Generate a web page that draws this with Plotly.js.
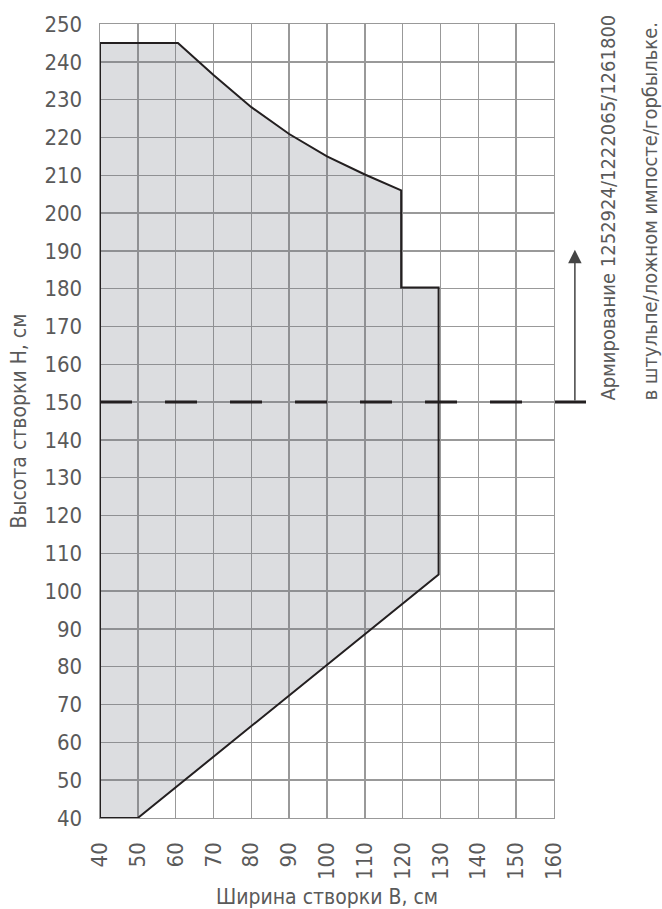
<!DOCTYPE html>
<html>
<head>
<meta charset="utf-8">
<script src="https://cdn.plot.ly/plotly-3.0.1.min.js"></script>
<style>
  html, body { margin: 0; padding: 0; background: #ffffff; }
  #chart { width: 662px; height: 909px; }
</style>
</head>
<body>
<div id="chart"></div>
<script>
// Outline of the permissible area (width B, height H)
const widthB  = [40, 40, 60.6, 70, 80, 90, 100, 110, 119.6, 119.6, 129.5, 129.5, 50, 40];
const heightH = [40, 245, 245, 236.5, 228, 220.9, 215, 210.2, 206, 180.3, 180.3, 104.4, 40, 40];

// Reinforcement threshold
const thresholdH = 150;
const arrowTopH = 190.3;

// Tick labels
const xTicks = [40, 50, 60, 70, 80, 90, 100, 110, 120, 130, 140, 150, 160];
const yTicks = [40, 50, 60, 70, 80, 90, 100, 110, 120, 130, 140, 150, 160, 170, 180, 190, 200, 210, 220, 230, 240, 250];

const xTitle = 'Ширина створки B, см';
const yTitle = 'Высота створки H, см';
const noteLine1 = 'Армирование 1252924/1222065/1261800';
const noteLine2 = 'в штульпе/ложном импосте/горбыльке.';

const FONT = '"DejaVu Sans Condensed", "DejaVu Sans", sans-serif';
const TXT = '#5a5a5a';

const traces = [{
  type: 'scatter',
  mode: 'lines',
  x: widthB,
  y: heightH,
  fill: 'toself',
  fillcolor: 'rgba(115,119,131,0.25)',
  line: { color: '#231f20', width: 2 },
  hoverinfo: 'skip',
  showlegend: false
}];

const layout = {
  width: 662,
  height: 909,
  margin: { l: 100, r: 108, t: 24, b: 91 },
  paper_bgcolor: '#ffffff',
  plot_bgcolor: '#ffffff',
  font: { family: FONT, color: TXT, size: 21 },
  showlegend: false,
  xaxis: {
    range: [40, 160],
    tickvals: xTicks,
    ticktext: xTicks.map(String),
    tickangle: -90,
    ticks: '',
    ticklabelstandoff: 14,
    tickfont: { family: FONT, size: 22, color: TXT },
    showgrid: true,
    gridcolor: '#999999',
    gridwidth: 1.4,
    zeroline: false,
    showline: true,
    linecolor: '#999999',
    linewidth: 1.4,
    mirror: true,
    fixedrange: true,
    title: { text: xTitle, font: { family: FONT, size: 21, color: TXT }, standoff: 18 }
  },
  yaxis: {
    range: [40, 250],
    tickvals: yTicks,
    ticktext: yTicks.map(String),
    ticks: '',
    ticklabelstandoff: 12,
    tickfont: { family: FONT, size: 22, color: TXT },
    showgrid: true,
    gridcolor: '#999999',
    gridwidth: 1.4,
    zeroline: false,
    showline: true,
    linecolor: '#999999',
    linewidth: 1.4,
    mirror: true,
    fixedrange: true,
    title: { text: yTitle, font: { family: FONT, size: 21, color: TXT }, standoff: 12 }
  },
  shapes: [{
    type: 'line',
    xref: 'paper', yref: 'y',
    x0: 0, x1: 1.0705,
    y0: thresholdH, y1: thresholdH,
    line: { color: '#231f20', width: 3, dash: '32px,33px' },
    layer: 'above'
  }],
  annotations: [{
    xref: 'paper', yref: 'y',
    x: 1.046, y: arrowTopH,
    axref: 'pixel', ayref: 'y',
    ax: 0, ay: thresholdH,
    text: '',
    showarrow: true,
    arrowhead: 2,
    arrowsize: 1.8,
    arrowwidth: 1.5,
    arrowcolor: '#444444'
  }, {
    xref: 'paper', yref: 'y',
    x: 1.089, y: thresholdH,
    xanchor: 'left', yanchor: 'bottom',
    textangle: -90,
    showarrow: false,
    text: noteLine1,
    font: { family: FONT, size: 20, color: TXT }
  }, {
    xref: 'paper', yref: 'y',
    x: 1.181, y: thresholdH,
    xanchor: 'left', yanchor: 'bottom',
    textangle: -90,
    showarrow: false,
    text: noteLine2,
    font: { family: FONT, size: 20, color: TXT }
  }]
};

Plotly.newPlot('chart', traces, layout, { staticPlot: true, displayModeBar: false });
</script>
</body>
</html>
